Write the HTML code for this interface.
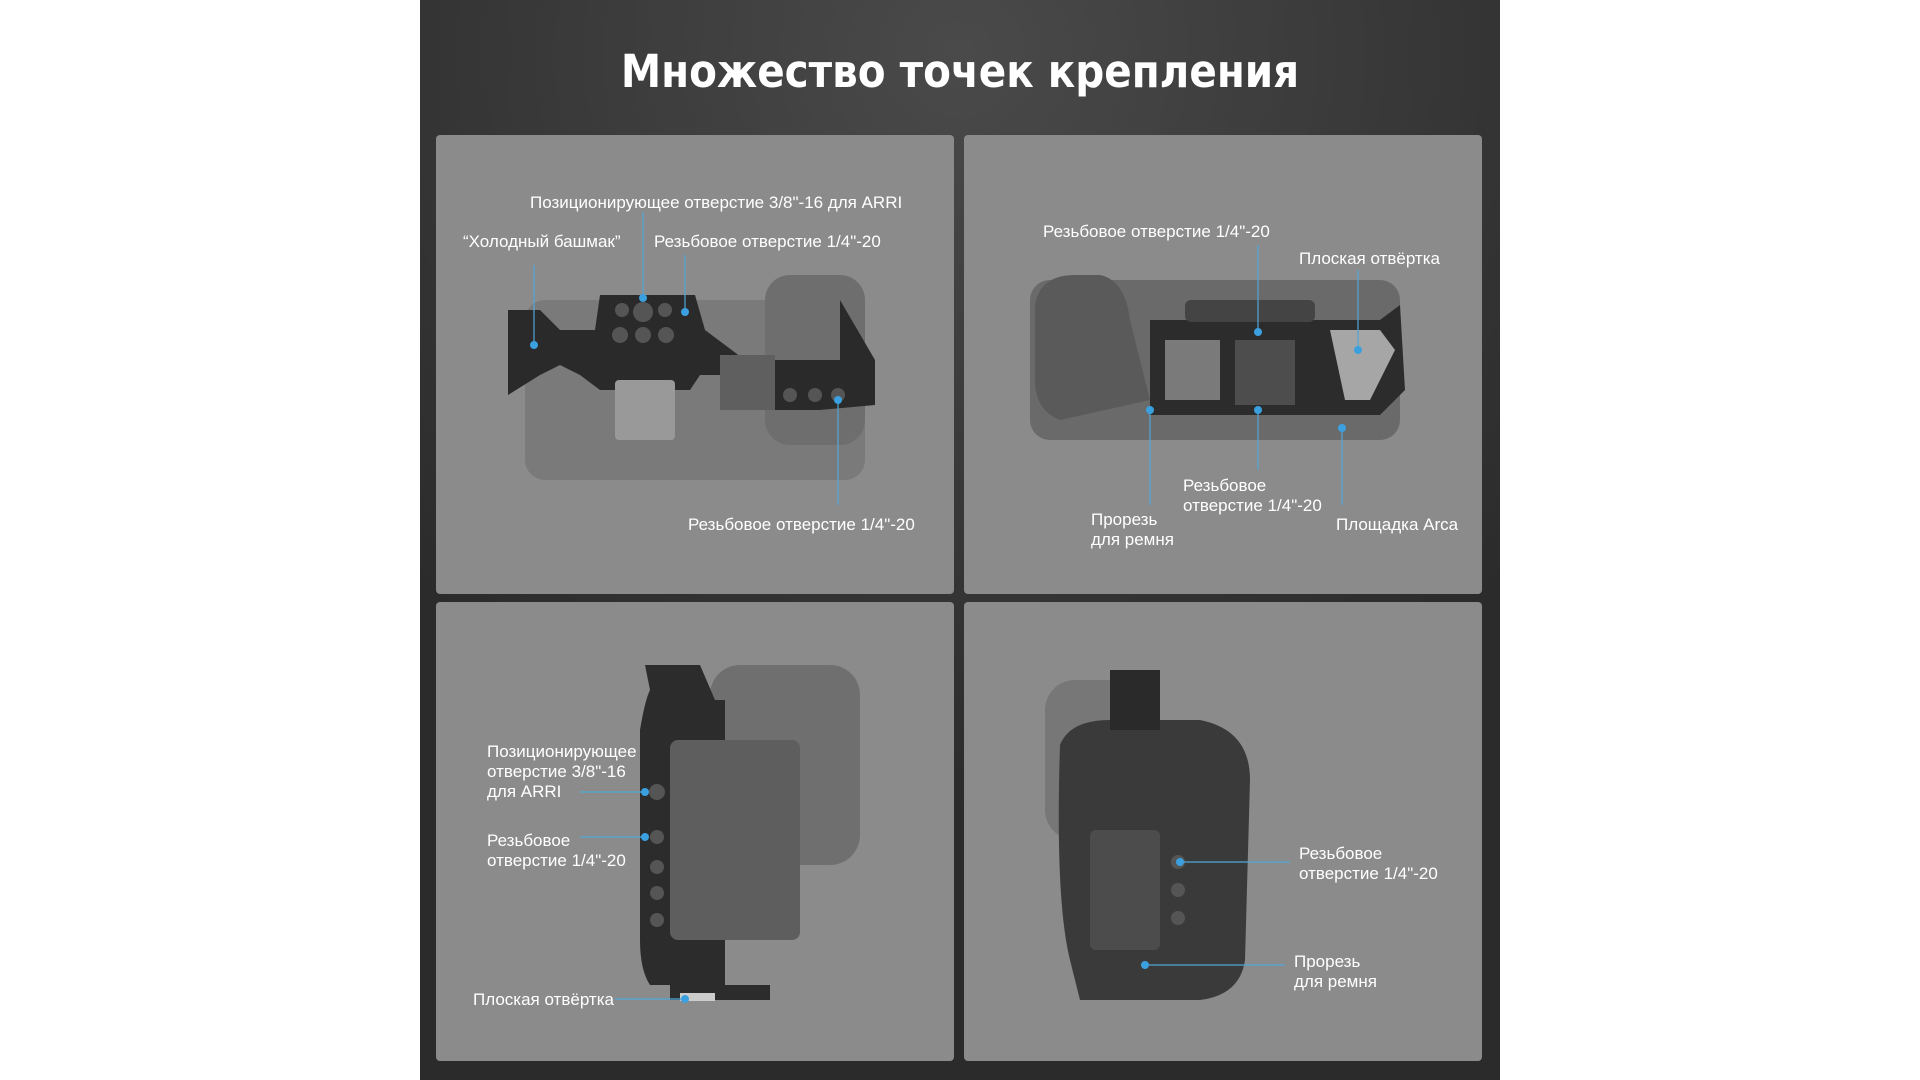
<!DOCTYPE html>
<html><head><meta charset="utf-8"><style>
html,body{margin:0;padding:0;background:#fff;}
svg{display:block}
text{font-family:"Liberation Sans Narrow","Liberation Sans",sans-serif;fill:#fff;font-size:17px}
</style></head><body>
<svg width="1920" height="1080" viewBox="0 0 1920 1080" xmlns="http://www.w3.org/2000/svg">
<defs>
<radialGradient id="bg" cx="0.5" cy="0.05" r="0.7">
<stop offset="0" stop-color="#4a4a4a"/><stop offset="1" stop-color="#2b2b2b"/>
</radialGradient>
</defs>
<rect x="0" y="0" width="1920" height="1080" fill="#fff"/>
<rect x="420" y="0" width="1080" height="1080" fill="url(#bg)"/>
<text x="960" y="87" text-anchor="middle" style="font-size:45px;font-weight:bold;font-family:'DejaVu Sans Condensed','Liberation Sans Narrow',sans-serif">Множество точек крепления</text>
<g fill="#8b8b8b">
<rect x="436" y="135" width="518" height="459" rx="4"/>
<rect x="964" y="135" width="518" height="459" rx="4"/>
<rect x="436" y="602" width="518" height="459" rx="4"/>
<rect x="964" y="602" width="518" height="459" rx="4"/>
</g>
<g>
<rect x="525" y="300" width="340" height="180" rx="20" fill="#7a7a7a"/>
<rect x="765" y="275" width="100" height="170" rx="25" fill="#6e6e6e"/>
<path d="M508 310 L540 310 L560 330 L595 330 L600 295 L695 295 L705 330 L745 360 L840 360 L840 300 L875 360 L875 405 L820 410 L745 410 L720 375 L700 375 L690 390 L600 390 L580 375 L560 365 L540 375 L508 395 Z" fill="#2a2a2a"/>
<g fill="#555"><circle cx="622" cy="310" r="7"/><circle cx="643" cy="312" r="10"/><circle cx="665" cy="310" r="7"/><circle cx="620" cy="335" r="8"/><circle cx="643" cy="335" r="8"/><circle cx="666" cy="335" r="8"/><circle cx="790" cy="395" r="7"/><circle cx="815" cy="395" r="7"/><circle cx="838" cy="395" r="7"/></g>
<rect x="615" y="380" width="60" height="60" rx="4" fill="#999"/>
<rect x="720" y="355" width="55" height="55" fill="#5f5f5f"/>
</g>
<g>
<rect x="1030" y="280" width="370" height="160" rx="20" fill="#6a6a6a"/>
<path d="M1035 305 Q1040 275 1075 275 L1100 275 Q1125 280 1130 320 L1150 400 L1060 420 Q1035 410 1035 380 Z" fill="#5a5a5a"/>
<path d="M1150 320 L1380 320 L1400 305 L1405 390 L1380 415 L1150 415 Z" fill="#2c2c2c"/>
<rect x="1165" y="340" width="55" height="60" fill="#7a7a7a"/>
<rect x="1235" y="340" width="60" height="65" fill="#4d4d4d"/>
<path d="M1330 330 L1380 330 L1395 350 L1370 400 L1345 400 Z" fill="#a6a6a6"/>
<rect x="1185" y="300" width="130" height="22" rx="6" fill="#444"/>
</g>
<g>
<rect x="710" y="665" width="150" height="200" rx="30" fill="#6f6f6f"/>
<path d="M645 665 L700 665 L715 700 L725 700 L725 985 L770 985 L770 1000 L670 1000 L670 985 L650 985 Q640 970 640 940 L640 730 Q645 700 650 690 Z" fill="#2c2c2c"/>
<rect x="670" y="740" width="130" height="200" rx="8" fill="#5e5e5e"/>
<g fill="#555"><circle cx="657" cy="792" r="8"/><circle cx="657" cy="837" r="7"/><circle cx="657" cy="867" r="7"/><circle cx="657" cy="893" r="7"/><circle cx="657" cy="920" r="7"/></g>
<rect x="680" y="993" width="35" height="8" fill="#ccc"/>
</g>
<g>
<rect x="1045" y="680" width="90" height="160" rx="30" fill="#777"/>
<path d="M1060 745 Q1070 720 1110 720 L1200 720 Q1250 730 1250 780 L1245 960 Q1240 995 1200 1000 L1080 1000 L1070 960 Q1055 900 1060 745 Z" fill="#3a3a3a"/>
<rect x="1110" y="670" width="50" height="60" fill="#2a2a2a"/>
<rect x="1090" y="830" width="70" height="120" rx="6" fill="#4c4c4c"/>
<g fill="#555"><circle cx="1178" cy="862" r="7"/><circle cx="1178" cy="890" r="7"/><circle cx="1178" cy="918" r="7"/></g>
</g>
<g stroke="#4fa8d8" stroke-width="1.2" fill="none">
<line x1="534" y1="265" x2="534" y2="345"/>
<line x1="643" y1="212" x2="643" y2="298"/>
<line x1="685" y1="255" x2="685" y2="312"/>
<line x1="838" y1="400" x2="838" y2="505"/>
<line x1="1258" y1="245" x2="1258" y2="332"/>
<line x1="1358" y1="270" x2="1358" y2="350"/>
<line x1="1258" y1="410" x2="1258" y2="470"/>
<line x1="1150" y1="410" x2="1150" y2="505"/>
<line x1="1342" y1="428" x2="1342" y2="505"/>
<line x1="580" y1="792" x2="645" y2="792"/>
<line x1="580" y1="837" x2="645" y2="837"/>
<line x1="615" y1="999" x2="685" y2="999"/>
<line x1="1180" y1="862" x2="1290" y2="862"/>
<line x1="1145" y1="965" x2="1285" y2="965"/>
</g>
<g fill="#3aa0e0">
<circle cx="534" cy="345" r="4"/><circle cx="643" cy="298" r="4"/><circle cx="685" cy="312" r="4"/><circle cx="838" cy="400" r="4"/>
<circle cx="1258" cy="332" r="4"/><circle cx="1358" cy="350" r="4"/><circle cx="1258" cy="410" r="4"/><circle cx="1150" cy="410" r="4"/><circle cx="1342" cy="428" r="4"/>
<circle cx="645" cy="792" r="4"/><circle cx="645" cy="837" r="4"/><circle cx="685" cy="999" r="4"/>
<circle cx="1180" cy="862" r="4"/><circle cx="1145" cy="965" r="4"/>
</g>
<text x="530" y="208">Позиционирующее отверстие 3/8"-16 для ARRI</text>
<text x="463" y="247">“Холодный башмак”</text>
<text x="654" y="247">Резьбовое отверстие 1/4"-20</text>
<text x="688" y="530">Резьбовое отверстие 1/4"-20</text>
<text x="1043" y="237">Резьбовое отверстие 1/4"-20</text>
<text x="1299" y="264">Плоская отвёртка</text>
<text x="1183" y="491">Резьбовое</text>
<text x="1183" y="511">отверстие 1/4"-20</text>
<text x="1091" y="525">Прорезь</text>
<text x="1091" y="545">для ремня</text>
<text x="1336" y="530">Площадка Arca</text>
<text x="487" y="757">Позиционирующее</text>
<text x="487" y="777">отверстие 3/8"-16</text>
<text x="487" y="797">для ARRI</text>
<text x="487" y="846">Резьбовое</text>
<text x="487" y="866">отверстие 1/4"-20</text>
<text x="473" y="1005">Плоская отвёртка</text>
<text x="1299" y="859">Резьбовое</text>
<text x="1299" y="879">отверстие 1/4"-20</text>
<text x="1294" y="967">Прорезь</text>
<text x="1294" y="987">для ремня</text>
</svg>
</body></html>
